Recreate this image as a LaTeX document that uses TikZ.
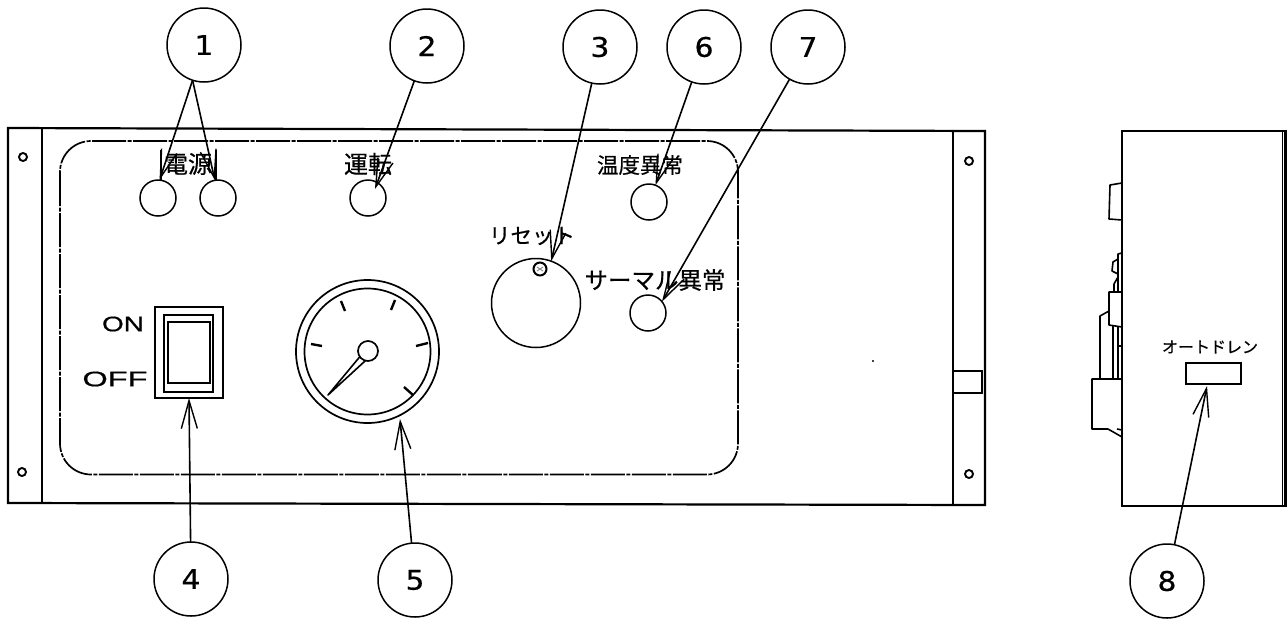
\documentclass[tikz,border=0pt]{standalone}
\usepackage{fontspec}
\usepackage{graphicx}
\usetikzlibrary{arrows.meta}
\setmainfont[FakeBold=0.6]{DejaVu Sans}
\newfontfamily\cjk[FakeBold=0.5]{Noto Sans CJK JP}
\newfontfamily\lat[FakeBold=0.7]{Liberation Sans}
\newcommand{\fsz}[1]{\fontsize{#1pt}{#1pt}\selectfont}
\newcommand{\dg}[1]{\scalebox{1.1}[1]{#1}}
\tikzset{
  x=1pt,y=-1pt,
  callout/.style={draw,circle,line width=1.5pt,minimum size=74pt,inner sep=0pt,outer sep=0pt,font=\fsz{27}},
  lamp/.style={draw,circle,line width=1.5pt,minimum size=36pt,inner sep=0pt,outer sep=0pt},
  leader/.style={line width=1.6pt,-{Straight Barb[length=28pt,width=16pt,line width=1.4pt]}},
  plain/.style={line width=1.6pt,line join=round},
  heavy/.style={line width=2.2pt,line join=miter},
  hole/.style={draw,circle,line width=1.9pt,minimum size=8pt,inner sep=0pt},
  jp/.style={inner sep=0pt,font=\cjk\fsz{#1}},
  boxn/.style={draw,rectangle,inner sep=0pt,outer sep=0pt},
  tick/.style={line width=2.4pt}
}
\begin{document}
\begin{tikzpicture}
\useasboundingbox (0,0) rectangle (1287,619);
% front panel
\draw[heavy] (8,128) -- (985,131) -- (985,505) -- (8,503) -- cycle;
\draw[line width=1.9pt] (42,128) -- (42,503);
\draw[line width=1.6pt] (953,131) -- (953,505);
\draw[line width=1.7pt,dash pattern=on 34pt off 1.5pt on 4pt off 1.5pt,rounded corners=31pt]
  (60,141) rectangle (738,474.5);
\node[hole] (h1) at (23,157) {};
\node[hole] (h2) at (22,472) {};
\node[hole] (h3) at (969,161) {};
\node[hole] (h4) at (969,474) {};
\node[boxn,line width=1.4pt,minimum width=29pt,minimum height=22pt] (latch) at (967.5,382) {};
\draw[line width=2.2pt] (latch.south west) -- (latch.south east);
\fill (873,361) circle (1.2pt);
% lamps and knob
\node[lamp] (lampA) at (158,198) {};
\node[lamp] (lampB) at (218,198) {};
\node[lamp] (lampC) at (368,198) {};
\node[lamp] (lampT) at (649,202) {};
\node[lamp] (lampS) at (648,313) {};
\node[draw,circle,line width=1.5pt,minimum size=89pt,inner sep=0pt,outer sep=0pt] (knob) at (536,303) {};
\node[draw,circle,line width=2pt,minimum size=13pt,inner sep=0pt] (screw) at (540,269) {};
\draw[line width=.9pt,gray] (537,267) -- (543,271) (543,267) -- (537,271);
% labels
\node[jp=24] (tA) at (188,164) {電源};
\draw[plain] (161,150) -- (161,180) (216,150) -- (216,180);
\node[jp=24] (tB) at (368,164) {運転};
\node[jp=21.5] (tC) at (640,165) {温度異常};
\node[jp=21.5] (tD) at (532,236) {リセット};
\node[jp=23.5] (tE) at (655,280) {サーマル異常};
% switch
\node[boxn,line width=1.8pt,minimum width=68pt,minimum height=91pt] (switchO) at (189,352.5) {};
\node[boxn,line width=1.8pt,minimum width=49pt,minimum height=77pt] (switchM) at (188.5,353.5) {};
\node[boxn,line width=2pt,minimum width=42pt,minimum height=61pt] (switchI) at (189,352.5) {};
\node[inner sep=0pt,font=\lat\fsz{21}] (on) at (123,324) {\scalebox{1.33}[1]{ON}};
\node[inner sep=0pt,font=\lat\fsz{21}] (off) at (115,379) {\scalebox{1.55}[1]{OFF}};
% gauge
\node[draw,circle,line width=1.7pt,minimum size=143pt,inner sep=0pt,outer sep=0pt] (gaugeO) at (367.5,351.5) {};
\node[draw,circle,line width=1.7pt,minimum size=126pt,inner sep=0pt,outer sep=0pt] (gaugeI) at (367.5,351.5) {};
\node[draw,circle,line width=1.7pt,minimum size=20pt,inner sep=0pt,outer sep=0pt] (hub) at (368,351) {};
\draw[tick] (341,301) -- (345,311) (395,300) -- (391,310) (311,344) -- (322,346)
            (428,343) -- (416,346) (404,387) -- (413,395);
\coordinate (needle) at (328,395);
\draw[plain] (hub.215) -- (needle) -- (hub.255);
% side view
\draw[heavy] (1122,131) -- (1285.5,131) -- (1285.5,506) -- (1122,506) -- cycle;
\draw[line width=1.5pt] (1282.5,131) -- (1282.5,506);
\draw[plain] (1122,183) -- (1110,185) -- (1109,219) -- (1122,220);
\draw[plain] (1122,253) -- (1118,254) -- (1118,292);
\draw[plain] (1118,259) -- (1113,262) -- (1112,271) -- (1118,274);
\draw[plain] (1118,277) -- (1114,284) -- (1114,292);
\draw[plain] (1122,292) -- (1109,292) -- (1109,325) -- (1122,327);
\draw[line width=2pt] (1118,327) -- (1118,346) -- (1122,346);
\draw[plain] (1109,311) -- (1100,316) -- (1100,379);
\draw[plain] (1113,325) -- (1113,379);
\draw[line width=1.2pt] (1118,346) -- (1118,379);
\draw[plain] (1122,379) -- (1092,379) -- (1092,429) -- (1108,429) -- (1122,437);
\draw[plain] (1117,429) -- (1122,430);
\node[jp=16] (tF) at (1210,347) {オートドレン};
\node[boxn,line width=1.9pt,minimum width=55pt,minimum height=21pt] (drain) at (1213.5,373.5) {};
% callouts
\node[callout] (n1) at (204,45) {\dg{1}};
\node[callout] (n2) at (427,46) {\dg{2}};
\node[callout] (n3) at (600,47) {\dg{3}};
\node[callout] (n6) at (704,47) {\dg{6}};
\node[callout] (n7) at (808,47) {\dg{7}};
\node[callout] (n4) at (191,579) {\dg{4}};
\node[callout] (n5) at (415,580) {\dg{5}};
\node[callout] (n8) at (1167,581) {\dg{8}};
% leaders
\coordinate (tip2) at (375,189);
\coordinate (tip5) at (400,419);
\coordinate (tip8) at ([xshift=-6.5pt,yshift=-2pt]drain.south);
\draw[leader] (n1.252) -- (lampA.85);
\draw[leader] (n1.252) -- (lampB.100);
\draw[leader] (n2) -- (tip2);
\draw[leader] (n3) -- (knob.70);
\draw[leader] (n6) -- (lampT.69);
\draw[leader] (n7) -- (lampS.39);
\draw[leader] (n4) -- (switchO.south);
\draw[leader] (n5) -- (tip5);
\draw[leader] (n8) -- (tip8);
\end{tikzpicture}
\end{document}
